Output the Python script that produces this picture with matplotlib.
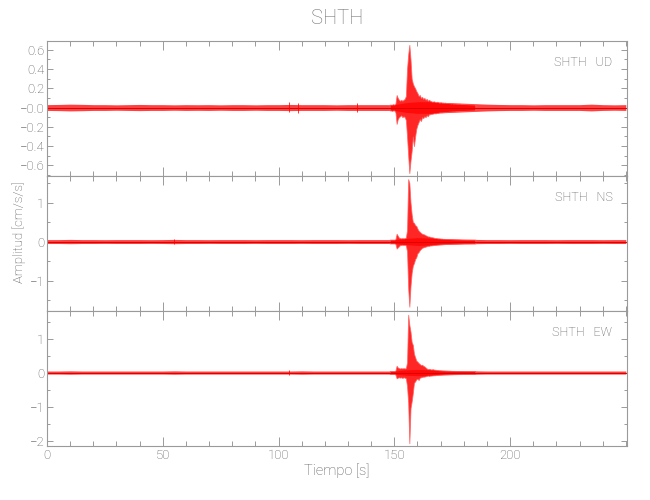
import numpy as np
import matplotlib
matplotlib.use("Agg")
import matplotlib.pyplot as plt
from matplotlib.ticker import MultipleLocator

# ---------------- data ----------------
station = "SHTH"
components = ["UD", "NS", "EW"]
x_ticks = [0, 50, 100, 150, 200]

# background noise half-amplitude, sampled every 5 s from 0 to 250 s
bg_t = list(range(0, 251, 5))
bg_ud = [0.030, 0.032, 0.035, 0.033, 0.030, 0.030, 0.028, 0.030, 0.032, 0.030,
         0.030, 0.028, 0.030, 0.029, 0.030, 0.028, 0.030, 0.030, 0.028, 0.030,
         0.030, 0.032, 0.030, 0.030, 0.030, 0.028, 0.030, 0.030, 0.030, 0.030,
         0.030, 0.050, 0.060, 0.060, 0.055, 0.050, 0.045, 0.040, 0.035, 0.032,
         0.030, 0.030, 0.028, 0.030, 0.030, 0.030, 0.030, 0.035, 0.030, 0.028, 0.030]
bg_ns = [0.050, 0.050, 0.055, 0.050, 0.050, 0.048, 0.050, 0.050, 0.050, 0.048,
         0.050, 0.055, 0.050, 0.050, 0.048, 0.050, 0.050, 0.050, 0.048, 0.050,
         0.050, 0.050, 0.048, 0.050, 0.050, 0.050, 0.048, 0.050, 0.050, 0.050,
         0.050, 0.080, 0.100, 0.090, 0.080, 0.070, 0.060, 0.055, 0.050, 0.050,
         0.048, 0.050, 0.050, 0.050, 0.048, 0.050, 0.050, 0.050, 0.048, 0.050, 0.050]
bg_ew = [0.045, 0.045, 0.050, 0.045, 0.045, 0.045, 0.045, 0.045, 0.045, 0.045,
         0.045, 0.050, 0.045, 0.045, 0.045, 0.045, 0.045, 0.045, 0.045, 0.045,
         0.045, 0.045, 0.050, 0.045, 0.045, 0.045, 0.045, 0.045, 0.045, 0.045,
         0.045, 0.080, 0.090, 0.080, 0.070, 0.060, 0.055, 0.050, 0.045, 0.045,
         0.045, 0.045, 0.045, 0.045, 0.045, 0.045, 0.045, 0.045, 0.045, 0.045, 0.045]

# isolated small bursts in the noise: time, up, down
spk_ud = [(104.7, 0.055, 0.050), (108.6, 0.050, 0.055), (134.0, 0.045, 0.045)]
spk_ns = [(55.0, 0.070, 0.060)]
spk_ew = [(104.5, 0.070, 0.060)]

# event window, sampled every 0.5 s from 148 to 185 s
ev_t = [148.0 + 0.5 * i for i in range(75)]
ud_up = [0.03, 0.03, 0.03, 0.035, 0.03, 0.04, 0.13, 0.10, 0.08, 0.07,
         0.08, 0.07, 0.08, 0.09, 0.12, 0.40, 0.55, 0.65, 0.50, 0.30,
         0.25, 0.22, 0.20, 0.17, 0.15, 0.12, 0.13, 0.10, 0.11, 0.09,
         0.10, 0.08, 0.09, 0.07, 0.08, 0.07, 0.065, 0.06, 0.065, 0.06,
         0.055, 0.06, 0.055, 0.05, 0.055, 0.05, 0.05, 0.048, 0.05, 0.045,
         0.048, 0.045, 0.045, 0.042, 0.045, 0.04, 0.042, 0.04, 0.04, 0.038,
         0.04, 0.038, 0.037, 0.036, 0.036, 0.035, 0.035, 0.034, 0.034, 0.033,
         0.033, 0.032, 0.032, 0.031, 0.031]
ud_dn = [0.03, 0.03, 0.035, 0.03, 0.03, 0.05, 0.17, 0.12, 0.10, 0.09,
         0.08, 0.10, 0.09, 0.10, 0.13, 0.30, 0.50, 0.68, 0.55, 0.45,
         0.30, 0.40, 0.30, 0.22, 0.18, 0.15, 0.12, 0.14, 0.10, 0.11,
         0.09, 0.10, 0.08, 0.09, 0.07, 0.07, 0.065, 0.065, 0.06, 0.06,
         0.06, 0.055, 0.055, 0.05, 0.05, 0.05, 0.048, 0.048, 0.045, 0.045,
         0.045, 0.043, 0.042, 0.042, 0.04, 0.04, 0.04, 0.038, 0.038, 0.037,
         0.037, 0.036, 0.036, 0.035, 0.035, 0.034, 0.034, 0.033, 0.033, 0.032,
         0.032, 0.031, 0.031, 0.030, 0.030]
ns_up = [0.05, 0.05, 0.05, 0.05, 0.05, 0.06, 0.20, 0.15, 0.10, 0.09,
         0.08, 0.09, 0.08, 0.09, 0.10, 0.30, 1.60, 1.50, 1.00, 0.70,
         0.50, 0.48, 0.42, 0.40, 0.33, 0.28, 0.25, 0.22, 0.20, 0.19,
         0.18, 0.16, 0.15, 0.13, 0.13, 0.12, 0.11, 0.11, 0.10, 0.09,
         0.09, 0.085, 0.08, 0.08, 0.075, 0.075, 0.07, 0.07, 0.068, 0.066,
         0.065, 0.064, 0.062, 0.06, 0.06, 0.058, 0.057, 0.056, 0.055, 0.055,
         0.054, 0.053, 0.052, 0.052, 0.051, 0.051, 0.05, 0.05, 0.05, 0.05,
         0.05, 0.05, 0.05, 0.05, 0.05]
ns_dn = [0.05, 0.05, 0.05, 0.05, 0.05, 0.06, 0.18, 0.15, 0.12, 0.09,
         0.09, 0.08, 0.09, 0.08, 0.10, 0.25, 1.20, 1.67, 1.14, 0.80,
         0.62, 0.55, 0.45, 0.40, 0.30, 0.27, 0.22, 0.19, 0.16, 0.15,
         0.14, 0.13, 0.12, 0.11, 0.11, 0.10, 0.10, 0.095, 0.09, 0.085,
         0.085, 0.08, 0.078, 0.075, 0.072, 0.07, 0.068, 0.066, 0.065, 0.064,
         0.062, 0.06, 0.06, 0.058, 0.057, 0.056, 0.055, 0.055, 0.054, 0.053,
         0.052, 0.052, 0.051, 0.051, 0.05, 0.05, 0.05, 0.05, 0.05, 0.05,
         0.05, 0.05, 0.05, 0.05, 0.05]
ew_up = [0.045, 0.045, 0.045, 0.045, 0.045, 0.06, 0.20, 0.15, 0.13, 0.12,
         0.13, 0.12, 0.13, 0.12, 0.13, 0.30, 1.70, 1.40, 1.20, 0.90,
         0.81, 0.55, 0.45, 0.35, 0.32, 0.28, 0.25, 0.22, 0.23, 0.20,
         0.18, 0.15, 0.12, 0.10, 0.11, 0.10, 0.09, 0.10, 0.09, 0.085,
         0.08, 0.075, 0.07, 0.065, 0.065, 0.06, 0.06, 0.058, 0.056, 0.055,
         0.054, 0.053, 0.052, 0.05, 0.05, 0.05, 0.049, 0.048, 0.048, 0.047,
         0.047, 0.046, 0.046, 0.046, 0.045, 0.045, 0.045, 0.045, 0.045, 0.045,
         0.045, 0.045, 0.045, 0.045, 0.045]
ew_dn = [0.045, 0.045, 0.045, 0.045, 0.045, 0.06, 0.17, 0.15, 0.14, 0.15,
         0.14, 0.16, 0.14, 0.15, 0.17, 0.40, 0.90, 2.08, 1.05, 0.85,
         0.60, 0.30, 0.26, 0.20, 0.18, 0.22, 0.15, 0.14, 0.13, 0.12,
         0.12, 0.11, 0.10, 0.09, 0.10, 0.09, 0.09, 0.085, 0.08, 0.08,
         0.075, 0.07, 0.068, 0.065, 0.062, 0.06, 0.058, 0.056, 0.055, 0.054,
         0.053, 0.052, 0.051, 0.05, 0.05, 0.049, 0.048, 0.048, 0.047, 0.047,
         0.046, 0.046, 0.046, 0.045, 0.045, 0.045, 0.045, 0.045, 0.045, 0.045,
         0.045, 0.045, 0.045, 0.045, 0.045]

ylims = [(-0.71, 0.69), (-1.78, 1.68), (-2.16, 1.81)]
y_major = [[-0.6, -0.4, -0.2, 0.0, 0.2, 0.4, 0.6], [-1, 0, 1], [-2, -1, 0, 1]]
y_labels = [["\u22120.6", "\u22120.4", "\u22120.2", "\u22120.0", "0.2", "0.4", "0.6"],
            ["\u22121", "0", "1"], ["\u22122", "\u22121", "0", "1"]]
y_minor = [0.1, 0.5, 0.5]

# ---------------- styling ----------------
plt.rcParams["font.family"] = ["Roboto", "DejaVu Sans"]
plt.rcParams["font.weight"] = "light"
plt.rcParams["axes.labelweight"] = "light"
axcol = "#9a9a9a"
txtcol = "#555555"
red = "#ff0000"

fig = plt.figure(figsize=(6.5, 5), dpi=100)
axes = fig.subplots(3, 1, sharex=True)
fig.subplots_adjust(left=0.0723, right=0.9646, top=0.918, bottom=0.108, hspace=0)

bgs = [bg_ud, bg_ns, bg_ew]
spks = [spk_ud, spk_ns, spk_ew]
ups = [ud_up, ns_up, ew_up]
dns = [ud_dn, ns_dn, ew_dn]

for i, ax in enumerate(axes):
    b = np.array(bgs[i])
    ax.fill_between(bg_t, -b, b, color=red, lw=0, alpha=0.75)
    ax.plot(bg_t, np.zeros(len(bg_t)), color="#dd0000", lw=0.7)
    u = np.array(ups[i]); d = np.array(dns[i])
    ax.fill_between(ev_t, -d, u, facecolor=red, edgecolor="#ff6060", lw=0.6, alpha=0.85)
    for (ts, a1, a2) in spks[i]:
        ax.vlines(ts, -a2, a1, color=red, lw=0.7, alpha=0.8)
    ax.set_xlim(0, 250.5)
    ax.set_ylim(*ylims[i])
    ax.set_yticks(y_major[i])
    ax.set_yticklabels(y_labels[i])
    ax.yaxis.set_minor_locator(MultipleLocator(y_minor[i]))
    ax.xaxis.set_major_locator(MultipleLocator(50))
    ax.xaxis.set_minor_locator(MultipleLocator(10))
    ax.tick_params(axis="x", which="major", direction="in", length=6.5, width=0.7,
                   color=axcol, top=True, bottom=True, labelsize=9.5, labelcolor=txtcol, pad=2)
    ax.tick_params(axis="x", which="minor", direction="in", length=3.3, width=0.7,
                   color=axcol, top=True, bottom=True)
    ax.tick_params(axis="y", which="major", direction="in", length=4.3, width=0.7,
                   color=axcol, left=True, right=True, labelsize=9.5, labelcolor=txtcol, pad=2)
    ax.tick_params(axis="y", which="minor", direction="in", length=2.2, width=0.7,
                   color=axcol, left=True, right=True)
    for s in ax.spines.values():
        s.set_color(axcol)
        s.set_linewidth(0.8)
    ax.text(0.975, 0.84, f"{station}   {components[i]}", transform=ax.transAxes,
            ha="right", va="center", fontsize=9, color=txtcol)

axes[-1].set_xticks(x_ticks)
axes[-1].set_xlabel("Tiempo [s]", fontsize=10.5, color=txtcol, labelpad=1)
fig.text(0.5185, 0.962, station, ha="center", va="center", fontsize=14.5, color="#707070")
fig.text(0.029, 0.535, "Amplitud [cm/s/s]", rotation=90, ha="center", va="center",
         fontsize=9.5, color=txtcol)

fig.savefig("out.png", dpi=100)
